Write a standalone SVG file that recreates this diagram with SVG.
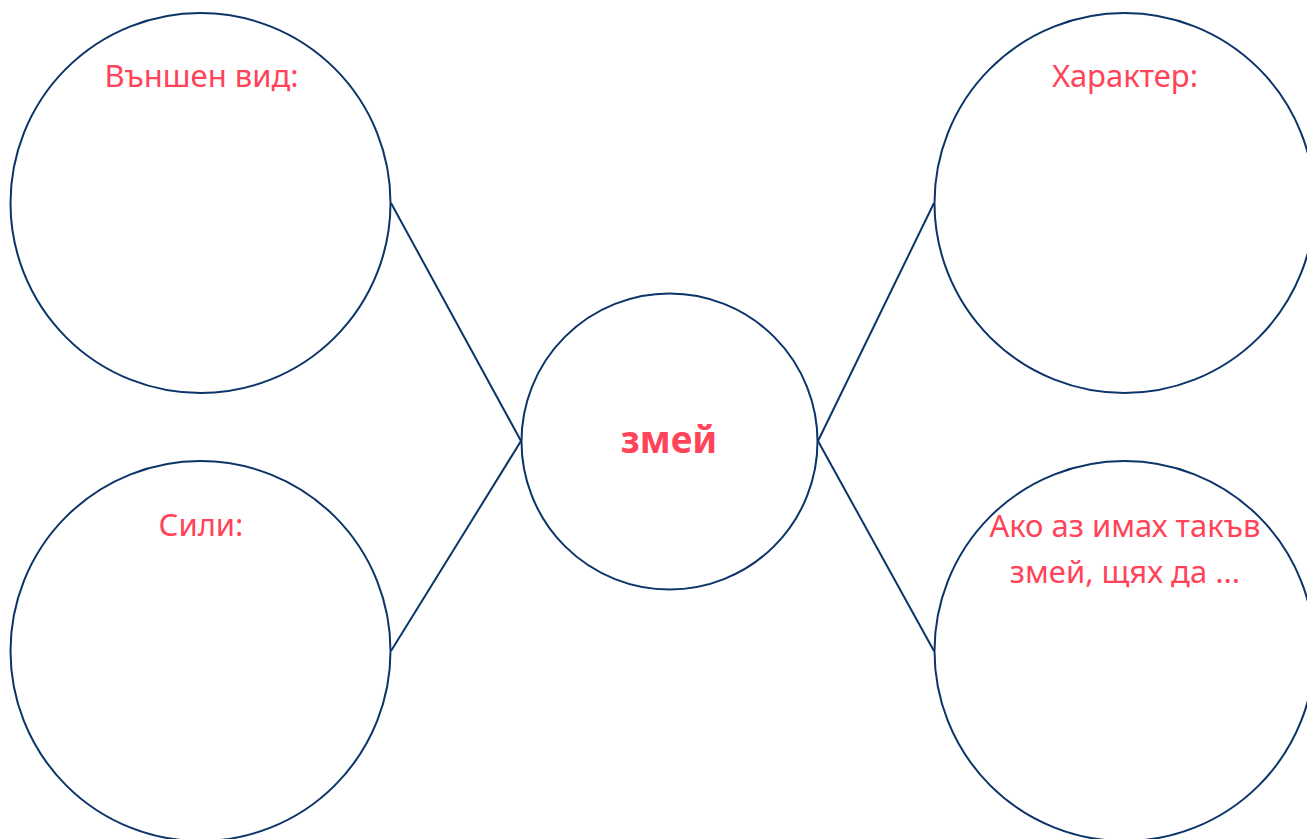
<svg xmlns="http://www.w3.org/2000/svg" width="1307" height="839" viewBox="0 0 1307 839">
<style>
.c{fill:none;stroke:#0b3468;stroke-width:2}
.l{stroke:#0b3468;stroke-width:2;fill:none}
.t{font-family:"Noto Sans","Open Sans",sans-serif;font-size:31px;fill:#ff4359;text-anchor:middle}
.b{font-family:"Noto Sans","Open Sans",sans-serif;font-size:37px;font-weight:bold;fill:#ff4359;text-anchor:middle}
</style>
<rect width="1307" height="839" fill="#fff"/>
<g id="connectors">
<line class="l" x1="391" y1="203" x2="521" y2="441"/>
<line class="l" x1="391" y1="651" x2="521" y2="441"/>
<line class="l" x1="818" y1="441" x2="934" y2="203"/>
<line class="l" x1="818" y1="441" x2="934" y2="651"/>
</g>
<g id="appearance">
<circle class="c" cx="200.5" cy="203" r="190"/>
<text class="t" x="201.5" y="87">Външен вид:</text>
</g>
<g id="powers">
<circle class="c" cx="200.5" cy="651" r="190"/>
<text class="t" x="201" y="536">Сили:</text>
</g>
<g id="center">
<circle class="c" cx="669.5" cy="441.5" r="148"/>
<text class="b" x="669" y="453">змей</text>
</g>
<g id="character">
<circle class="c" cx="1124.5" cy="203" r="190"/>
<text class="t" x="1125" y="87">Характер:</text>
</g>
<g id="wish">
<circle class="c" cx="1124.5" cy="651" r="190"/>
<text class="t" x="1125" y="537">Ако аз имах такъв</text>
<text class="t" x="1125" y="583">змей, щях да ...</text>
</g>
</svg>
